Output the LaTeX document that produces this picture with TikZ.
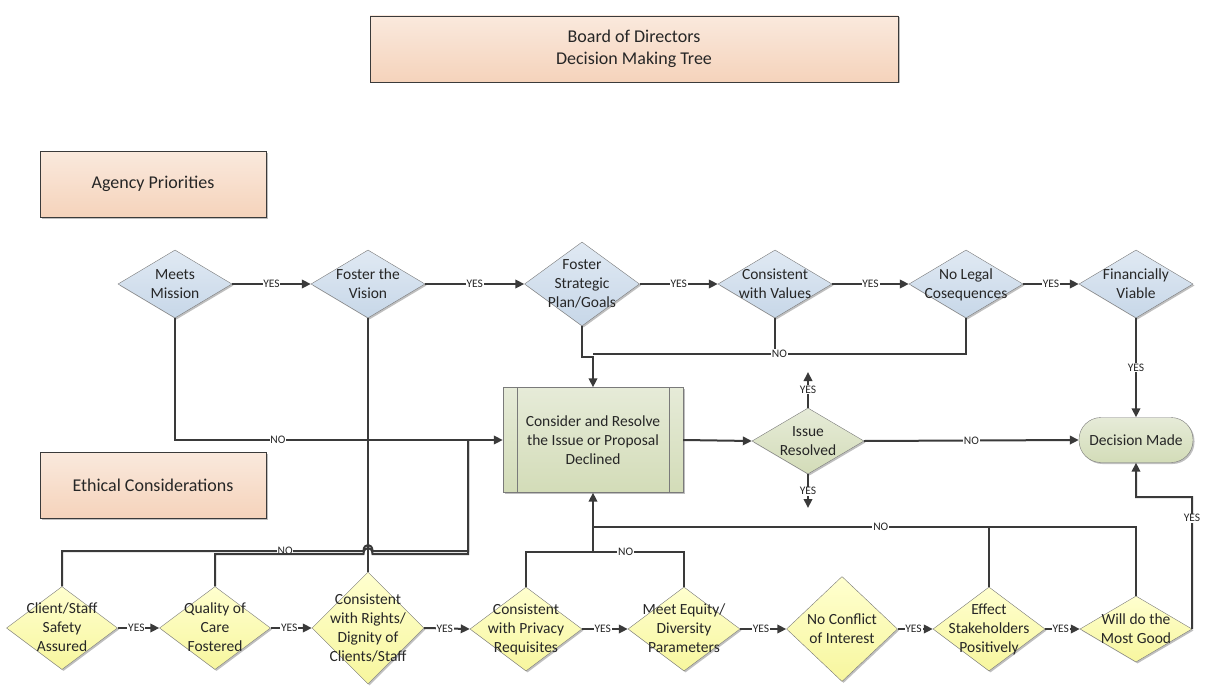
\documentclass[tikz,border=0pt]{standalone}
\usepackage{fontspec}
\setmainfont{Carlito}
\usepackage{xcolor}
\usepackage{tikz}
\definecolor{peachtop}{HTML}{FAE9DD}
\definecolor{peachbot}{HTML}{F5D3BB}
\definecolor{bluetop}{HTML}{E0E9F3}
\definecolor{bluebot}{HTML}{C7D7E8}
\definecolor{yellowtop}{HTML}{FFFFCF}
\definecolor{yellowbot}{HTML}{F7F69E}
\definecolor{sagetop}{HTML}{E6EBD8}
\definecolor{sagebot}{HTML}{D3DCB8}
\definecolor{linegray}{HTML}{3A3A3A}
\definecolor{edgegray}{HTML}{7A7A7A}
\usetikzlibrary{shapes.geometric, shadows, arrows.meta}

\newcommand{\dtext}[1]{\makebox[0pt]{\smash{\raisebox{-4.5pt}{\begin{tabular}{@{}c@{}}#1\end{tabular}}}}}

\tikzset{
	>={Triangle[length=9pt, width=8.5pt]},
	conn/.style={draw=linegray, line width=2pt},
	yn/.style={font=\fontsize{11.5}{13}\selectfont, text=black!85, fill=white, inner sep=0.8pt},
	shade box/.style={drop shadow={shadow xshift=1.5pt, shadow yshift=-1.5pt, opacity=0.25, fill=black}},
	titlebox/.style={draw=linegray, rectangle, align=center, top color=peachtop, bottom color=peachbot, text=black!85, font=\fontsize{18}{22}\selectfont, shade box},
	diam/.style={draw=edgegray, diamond, inner sep=0pt, text=black!85, font=\fontsize{15.5}{19}\selectfont, shade box},
	bluediam/.style={diam, top color=bluetop, bottom color=bluebot},
	yellowdiam/.style={diam, top color=yellowtop, bottom color=yellowbot},
	sagediam/.style={diam, top color=sagetop, bottom color=sagebot},
	procbox/.style={draw=edgegray, rectangle, align=center, top color=sagetop, bottom color=sagebot, text=black!85, font=\fontsize{15.5}{19}\selectfont, shade box},
	endcap/.style={draw=edgegray, rectangle, rounded corners=22pt, align=center, top color=sagetop, bottom color=sagebot, text=black!85, font=\fontsize{15.5}{19}\selectfont, shade box}
}

\begin{document}
\begin{tikzpicture}[x=1pt, y=-1pt]
	\useasboundingbox (0,0) rectangle (1207,698);
	
	\node[titlebox, minimum width=528pt, minimum height=66pt] (title) at (634,49) {Board of Directors\\Decision Making Tree};
	\node[titlebox, minimum width=226pt, minimum height=66pt] (agency) at (153,184) {Agency Priorities};
	\node[titlebox, minimum width=226pt, minimum height=66pt] (ethical) at (153,485) {Ethical Considerations};
	
	\node[bluediam, minimum width=114pt, minimum height=68pt] (mission) at (175,284) {\dtext{Meets\\Mission}};
	\node[bluediam, minimum width=114pt, minimum height=68pt] (vision) at (368,284) {\dtext{Foster the\\Vision}};
	\node[bluediam, minimum width=115pt, minimum height=84pt] (strategic) at (582,284) {\dtext{Foster\\Strategic\\Plan/Goals}};
	\node[bluediam, minimum width=114pt, minimum height=68pt] (values) at (775,284) {\dtext{Consistent\\with Values}};
	\node[bluediam, minimum width=114pt, minimum height=68pt] (legal) at (966,284) {\dtext{No Legal\\Cosequences}};
	\node[bluediam, minimum width=114pt, minimum height=68pt] (finance) at (1136,284) {\dtext{Financially\\Viable}};
	
	\node[procbox, minimum width=180pt, minimum height=105pt] (resolve) at (593,440) {Consider and Resolve\\the Issue or Proposal\\Declined};
	\draw[edgegray] ([xshift=14pt]resolve.north west) -- ([xshift=14pt]resolve.south west);
	\draw[edgegray] ([xshift=-14pt]resolve.north east) -- ([xshift=-14pt]resolve.south east);
	\node[sagediam, minimum width=112pt, minimum height=66pt] (issue) at (808,441) {\dtext{Issue\\Resolved}};
	\node[endcap, minimum width=114pt, minimum height=45pt] (decided) at (1136,440) {Decision Made};
	
	\node[yellowdiam, minimum width=111pt, minimum height=83pt] (safety) at (62,628) {\dtext{Client/Staff\\Safety\\Assured}};
	\node[yellowdiam, minimum width=111pt, minimum height=83pt] (care) at (215,628) {\dtext{Quality of\\Care\\Fostered}};
	\node[yellowdiam, minimum width=112pt, minimum height=112pt] (rights) at (368,628) {\dtext{Consistent\\with Rights/\\Dignity of\\Clients/Staff}};
	\node[yellowdiam, minimum width=112pt, minimum height=84pt] (privacy) at (526,629) {\dtext{Consistent\\with Privacy\\Requisites}};
	\node[yellowdiam, minimum width=112pt, minimum height=84pt] (equity) at (684,629) {\dtext{Meet Equity/\\Diversity\\Parameters}};
	\node[yellowdiam, minimum width=111pt, minimum height=105pt] (conflict) at (842,629) {\dtext{No Conflict\\of Interest}};
	\node[yellowdiam, minimum width=112pt, minimum height=84pt] (stake) at (989,629) {\dtext{Effect\\Stakeholders\\Positively}};
	\node[yellowdiam, minimum width=112pt, minimum height=66pt] (good) at (1136,629) {\dtext{Will do the\\Most Good}};
	
	\coordinate (topjoin) at (593,354);
	\coordinate (leftjoin) at (468,440);
	\coordinate (hop) at (368,551);
	\coordinate (hoplow) at (368,554);
	\coordinate (lowjoin) at (593,552);
	\coordinate (midjoin) at (593,527);
	\coordinate (goodturn) at (1192,497);
	\coordinate (issueup) at (808,372);
	\coordinate (issuedown) at (808,508);
	
	\draw[->, conn] (mission.east) -- node[yn] {YES} (vision.west);
	\draw[->, conn] (vision.east) -- node[yn] {YES} (strategic.west);
	\draw[->, conn] (strategic.east) -- node[yn] {YES} (values.west);
	\draw[->, conn] (values.east) -- node[yn] {YES} (legal.west);
	\draw[->, conn] (legal.east) -- node[yn] {YES} (finance.west);
	
	\draw[->, conn] (mission.south) |- node[yn, pos=0.657] {NO} (resolve.west);
	\draw[conn] (vision.south) -- (rights.north);
	\draw[->, conn] (strategic.south) |- ([yshift=-3pt]topjoin) -- (resolve.north);
	\draw[conn] (values.south) -- (values.south |- topjoin);
	\draw[conn] (legal.south) |- node[yn, pos=0.75] {NO} (topjoin);
	
	\draw[->, conn] (resolve.east) -- (issue.west);
	\draw[->, conn] (issue.east) -- node[yn] {NO} (decided.west);
	\draw[->, conn] (issue.north) -- node[yn] {YES} (issueup);
	\draw[->, conn] (issue.south) -- node[yn] {YES} (issuedown);
	\draw[->, conn] (finance.south) -- node[yn] {YES} (decided.north);
	
	\draw[conn] (safety.north) |- node[yn, pos=0.87] {NO} ([xshift=-4.5pt]hop) .. controls +(0pt,8pt) and +(0pt,8pt) .. ([xshift=4.5pt]hop) -| (leftjoin);
	\draw[conn] (care.north) |- ([xshift=-4.5pt]hoplow) .. controls +(0pt,8pt) and +(0pt,8pt) .. ([xshift=4.5pt]hoplow) -| (leftjoin);
	
	\draw[->, conn] (safety.east) -- node[yn, pos=0.45] {YES} (care.west);
	\draw[->, conn] (care.east) -- node[yn, pos=0.45] {YES} (rights.west);
	\draw[->, conn] (rights.east) -- node[yn, pos=0.45] {YES} (privacy.west);
	\draw[->, conn] (privacy.east) -- node[yn, pos=0.45] {YES} (equity.west);
	\draw[->, conn] (equity.east) -- node[yn, pos=0.45] {YES} (conflict.west);
	\draw[->, conn] (conflict.east) -- node[yn, pos=0.45] {YES} (stake.west);
	\draw[->, conn] (stake.east) -- node[yn, pos=0.45] {YES} (good.west);
	
	\draw[conn] (privacy.north) |- (lowjoin);
	\draw[conn] (equity.north) |- node[yn, pos=0.82] {NO} (lowjoin);
	\draw[->, conn] (lowjoin) -- (resolve.south);
	\draw[conn] (stake.north) |- (midjoin);
	\draw[conn] (good.north) |- node[yn, pos=0.735] {NO} (midjoin);
	
	\draw[->, conn] (good.east) -- node[yn, pos=0.84] {YES} (goodturn) -| (decided.south);
\end{tikzpicture}
\end{document}
